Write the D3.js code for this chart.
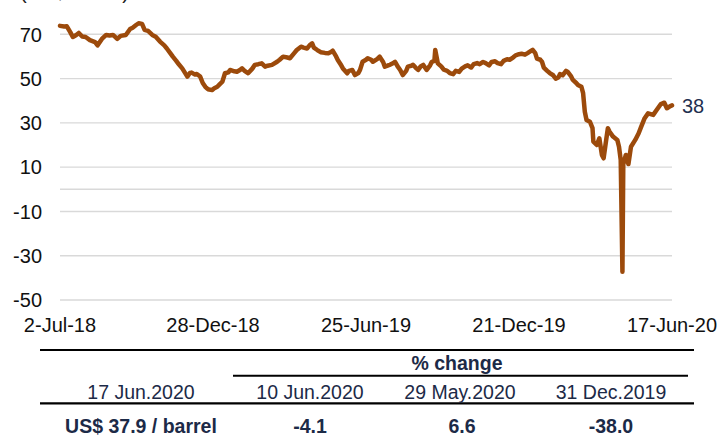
<!DOCTYPE html>
<html>
<head>
<meta charset="utf-8">
<script src="https://cdn.jsdelivr.net/npm/d3@7"></script>
<style>
    body { margin: 0; background: #fff; }
    svg { display: block; font-family: "Liberation Sans", Arial, sans-serif; }
</style>
</head>
<body>
<div id="chart"></div>
<script>
// WTI price, US$/barrel
const dates = [
    "2018-07-02","2018-07-07","2018-07-10","2018-07-14","2018-07-17","2018-07-21","2018-07-24","2018-07-28","2018-08-01","2018-08-06",
    "2018-08-12","2018-08-15","2018-08-20","2018-08-25","2018-08-29","2018-09-02","2018-09-07","2018-09-11","2018-09-17","2018-09-22",
    "2018-09-25","2018-09-29","2018-10-02","2018-10-06",
    "2018-10-09","2018-10-13","2018-10-18","2018-10-22","2018-10-27","2018-11-01","2018-11-04","2018-11-08","2018-11-11","2018-11-15",
    "2018-11-17","2018-11-22","2018-11-28","2018-12-01","2018-12-03","2018-12-07","2018-12-09","2018-12-13","2018-12-16","2018-12-19",
    "2018-12-22","2018-12-27","2018-12-29","2019-01-02","2019-01-05","2019-01-08","2019-01-11","2019-01-15","2019-01-17","2019-01-22",
    "2019-01-25","2019-01-29","2019-01-31","2019-02-03","2019-02-07","2019-02-12","2019-02-15","2019-02-19","2019-02-23","2019-02-27",
    "2019-03-02","2019-03-07","2019-03-13","2019-03-16","2019-03-20","2019-03-25","2019-03-28","2019-04-02","2019-04-05","2019-04-10",
    "2019-04-13","2019-04-17","2019-04-20","2019-04-23","2019-04-25","2019-04-29","2019-05-03","2019-05-08","2019-05-12","2019-05-15",
    "2019-05-17","2019-05-21","2019-05-23","2019-05-27","2019-05-29","2019-06-03","2019-06-05","2019-06-09","2019-06-12","2019-06-16",
    "2019-06-18","2019-06-21","2019-06-25","2019-06-27","2019-07-01","2019-07-03","2019-07-08","2019-07-11","2019-07-15","2019-07-17",
    "2019-07-21","2019-07-23","2019-07-27","2019-07-29","2019-08-01","2019-08-04","2019-08-07","2019-08-11","2019-08-13","2019-08-17",
    "2019-08-19","2019-08-22","2019-08-25","2019-08-28","2019-08-31","2019-09-02","2019-09-04","2019-09-08","2019-09-10","2019-09-13",
    "2019-09-14","2019-09-16","2019-09-17",
    "2019-09-21","2019-09-24","2019-09-28","2019-10-01","2019-10-05","2019-10-08","2019-10-12","2019-10-15","2019-10-19","2019-10-22",
    "2019-10-26","2019-10-29","2019-11-02","2019-11-05","2019-11-09","2019-11-12","2019-11-16","2019-11-19","2019-11-23","2019-11-26",
    "2019-11-30","2019-12-03","2019-12-07","2019-12-10","2019-12-14","2019-12-17","2019-12-21","2019-12-24","2019-12-28","2019-12-31",
    "2020-01-04","2020-01-06","2020-01-09","2020-01-11","2020-01-15","2020-01-17","2020-01-19","2020-01-23","2020-01-26","2020-01-30",
    "2020-02-02","2020-02-05","2020-02-07","2020-02-10","2020-02-14","2020-02-16","2020-02-20",
    "2020-02-22","2020-02-26","2020-02-28","2020-03-03","2020-03-05","2020-03-07","2020-03-09","2020-03-13","2020-03-16","2020-03-17",
    "2020-03-21","2020-03-24","2020-03-27","2020-03-29","2020-04-01","2020-04-03","2020-04-05","2020-04-09","2020-04-14","2020-04-16",
    "2020-04-18","2020-04-20","2020-04-21","2020-04-24","2020-04-27","2020-04-30","2020-05-05","2020-05-09","2020-05-12","2020-05-16",
    "2020-05-20","2020-05-26","2020-05-30","2020-06-04","2020-06-08","2020-06-11","2020-06-15","2020-06-17"
];
const prices = [
    73.8, 73.5, 73.6, 71, 68.8, 69.7, 70.6, 69, 68.8, 67.4,
    66.5, 65, 67.9, 69.7, 69.5, 69.7, 67.9, 69.3, 69.7, 72.4,
    73, 74.2, 75, 74.7,
    72, 71.5, 69.7, 68.9, 66.7, 65, 63.6, 61.5, 59.9, 58,
    56.9, 54.6, 50.9, 52.5, 52.7, 51.8, 52.1, 50.9, 48, 46.3,
    45.2, 44.8, 45.5, 46.3, 47.5, 48.6, 52.4, 52.8, 53.9, 53.3,
    53.1, 54, 54.6, 53.5, 52.4, 54.5, 56.2, 56.5, 56.9, 55.4,
    55.8, 56.2, 57.6, 58.5, 59.9, 59.5, 59.2, 61.5, 62.9, 64.4,
    64, 63.6, 65, 65.9, 64, 62.9, 61.9, 61.6, 61.4, 62,
    62.6, 60, 58.4, 56, 54.6, 52.4, 53.5, 53.9, 51.6, 52.5,
    53.9, 57.6, 58.5, 59.2, 58.5, 57.6, 58.8, 59.9, 57.5, 55.4,
    56, 56.2, 57, 57.6, 55.5, 53.9, 51.6, 53.5, 55.4, 55.8,
    56.2, 55, 53.9, 55.5, 56.2, 55, 53.9, 56, 57.6, 58,
    62.9, 59, 56.9,
    55.5, 54, 53.5, 52.5, 52, 53.5, 53, 54.5, 55.5, 56,
    55, 56.5, 57, 56.5, 57.5, 57, 56, 57.5, 57.8, 57,
    56.5, 58, 58.7, 58.5, 59.5, 60.5, 61, 61.2, 60.8, 61.5,
    62.5, 63, 61.5, 59, 58.5, 57.5, 55, 53.5, 52.5, 51.5,
    50, 50.5, 52, 51.5, 53.5, 53, 51,
    49.4, 48, 47.1, 46.3, 43.4, 35, 31.3, 30.5, 27.6, 21.5,
    20, 23, 15.5, 14, 22.3, 27.6, 26, 23.8, 22.3, 19.2,
    13.2, -37.2, 11.4, 15.5, 11.4, 19.2, 22.3, 25.3, 28.3, 32.1,
    34.3, 33.6, 35.8, 38.5, 39.1, 36.6, 37.6, 37.9
];

const yTicks = [70, 50, 30, 10, -10, -30, -50];
const gridValues = [70, 50, 30, 10, 0, -10, -30, -50];
const xTickDates = ["2018-07-02", "2018-12-28", "2019-06-25", "2019-12-21", "2020-06-17"];
const lastLabel = "38";

// summary table under the chart
const priceDate = "17 Jun.2020";
const priceText = "US$ 37.9 / barrel";
const changeDates = ["10 Jun.2020", "29 May.2020", "31 Dec.2019"];
const changeValues = [-4.1, 6.6, -38.0];

const width = 720, height = 436;
const parse = d3.timeParse("%Y-%m-%d");
const fmt = d3.timeFormat("%-d-%b-%y");

const data = dates.map((d, i) => ({date: parse(d), value: prices[i]}));

const svg = d3.select("#chart").append("svg")
    .attr("width", width)
    .attr("height", height);

const x = d3.scaleTime()
    .domain([parse(dates[0]), parse(dates[dates.length - 1])])
    .range([60, 672]);

const y = d3.scaleLinear()
    .domain([-50, 70])
    .range([300, 34.3]);

// units label, mostly cut off at the top (as in the source)
svg.append("text")
    .attr("x", 20).attr("y", -1)
    .style("font-size", "20px")
    .attr("fill", "#222")
    .text("(US$/barrel)");

// gridlines
svg.append("g")
    .selectAll("line")
    .data(gridValues)
    .enter()
    .append("line")
    .attr("x1", 60).attr("x2", 672)
    .attr("y1", d => y(d)).attr("y2", d => y(d))
    .attr("stroke", "#d9d9d9")
    .attr("stroke-width", 1.4);

// y axis labels
svg.append("g")
    .selectAll("text")
    .data(yTicks)
    .enter()
    .append("text")
    .attr("x", 42)
    .attr("y", d => y(d))
    .attr("dy", "0.36em")
    .attr("text-anchor", "end")
    .style("font-size", "20px")
    .attr("fill", "#111")
    .text(d => d);

// x axis labels
svg.append("g")
    .selectAll("text")
    .data(xTickDates.map(parse))
    .enter()
    .append("text")
    .attr("x", d => x(d))
    .attr("y", 332)
    .attr("text-anchor", "middle")
    .style("font-size", "20px")
    .attr("fill", "#111")
    .text(d => fmt(d));

// price line
const line = d3.line()
    .x(d => x(d.date))
    .y(d => y(d.value));

svg.append("path")
    .datum(data)
    .attr("d", line)
    .attr("fill", "none")
    .attr("stroke", "#9c4a0b")
    .attr("stroke-width", 4.5)
    .attr("stroke-linejoin", "round")
    .attr("stroke-linecap", "round");

// end label
const last = data[data.length - 1];
svg.append("text")
    .attr("x", x(last.date) + 10)
    .attr("y", y(last.value))
    .attr("dy", "0.36em")
    .style("font-size", "20px")
    .attr("fill", "#1f3050")
    .text(lastLabel);

// table
const navy = "#1c2a47";
const cols = [141, 310, 460, 611];
const tbl = svg.append("g");

tbl.append("line").attr("x1", 40).attr("x2", 694).attr("y1", 350).attr("y2", 350)
    .attr("stroke", "#000").attr("stroke-width", 2.2);
tbl.append("line").attr("x1", 233).attr("x2", 688).attr("y1", 375.7).attr("y2", 375.7)
    .attr("stroke", "#000").attr("stroke-width", 2);
tbl.append("line").attr("x1", 40).attr("x2", 694).attr("y1", 403.3).attr("y2", 403.3)
    .attr("stroke", "#000").attr("stroke-width", 2.2);

tbl.append("text")
    .attr("x", 457).attr("y", 370)
    .attr("text-anchor", "middle")
    .style("font-size", "19.5px")
    .style("font-weight", "bold")
    .attr("fill", navy)
    .text("% change");

tbl.selectAll(".hdr")
    .data([priceDate].concat(changeDates))
    .enter()
    .append("text")
    .attr("class", "hdr")
    .attr("x", (d, i) => cols[i])
    .attr("y", 399)
    .attr("text-anchor", "middle")
    .style("font-size", "19.5px")
    .attr("fill", navy)
    .text(d => d);

tbl.selectAll(".val")
    .data([priceText].concat(changeValues.map(v => v.toFixed(1))))
    .enter()
    .append("text")
    .attr("class", "val")
    .attr("x", (d, i) => cols[i] + (i === 2 ? 2 : 0))
    .attr("y", 433)
    .attr("text-anchor", "middle")
    .style("font-size", "19.5px")
    .style("font-weight", "bold")
    .attr("fill", navy)
    .text(d => d);
</script>
</body>
</html>
